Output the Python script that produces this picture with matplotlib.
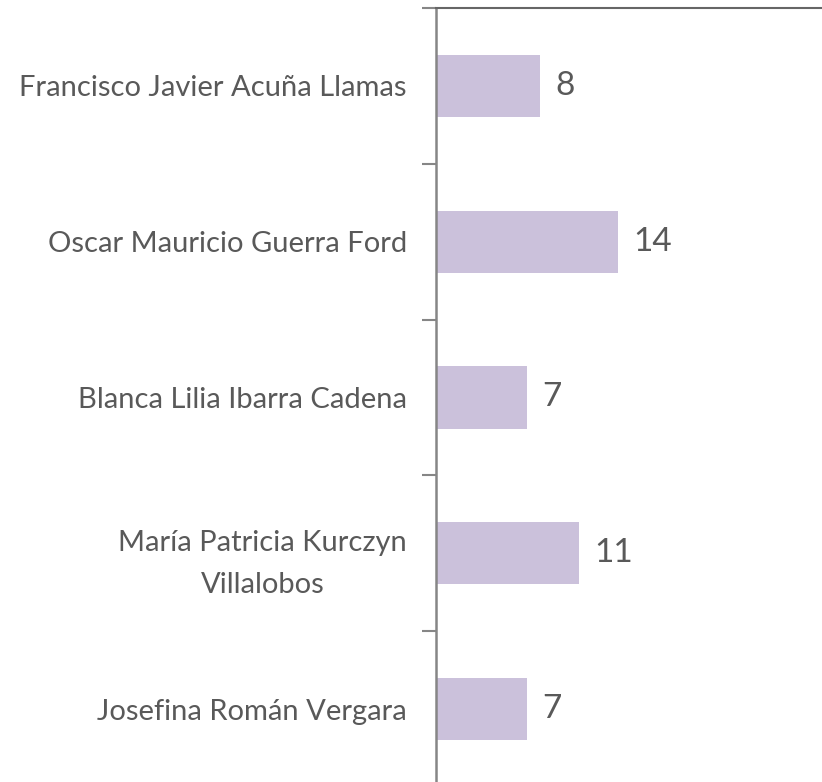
import numpy as np
import matplotlib.pyplot as plt

names = ["Francisco Javier Acuña Llamas",
         "Oscar Mauricio Guerra Ford",
         "Blanca Lilia Ibarra Cadena",
         "María Patricia Kurczyn\nVillalobos",
         "Josefina Román Vergara"]
values = [8, 14, 7, 11, 7]

plt.rcParams['font.family'] = ['Lato', 'DejaVu Sans']

fig = plt.figure(figsize=(8.22, 7.82), dpi=100, facecolor='w')
ax = fig.add_axes([436 / 822, 1 - 787 / 782, 1 - 436 / 822, 779 / 782])

ind = np.arange(len(names))
ax.barh(ind, values, height=0.4, color='#cbc1db', zorder=2)

for i, v in enumerate(values):
    ax.text(v + 1.2, i, str(v), va='center', ha='left', fontsize=24, color='#595959')

ax.set_xlim(0, (822 - 436) / 13.0)
ax.set_ylim(len(names) - 0.5, -0.5)
ax.set_yticks(ind)
ax.set_yticklabels(names, fontsize=21, color='#595959', ha='right',
                   multialignment='center', linespacing=1.75)
ax.tick_params(axis='y', which='major', length=0, pad=21)
ax.set_yticks(np.arange(-0.5, len(names), 1.0), minor=True)
ax.tick_params(axis='y', which='minor', length=10, width=1.5, color='#868686', direction='out')
ax.set_xticks([])

for s in ['right', 'bottom']:
    ax.spines[s].set_visible(False)
ax.spines['left'].set_color('#868686')
ax.spines['left'].set_linewidth(1.8)
ax.spines['top'].set_color('#666666')
ax.spines['top'].set_linewidth(1.5)

fig.savefig('out.png', dpi=100)
